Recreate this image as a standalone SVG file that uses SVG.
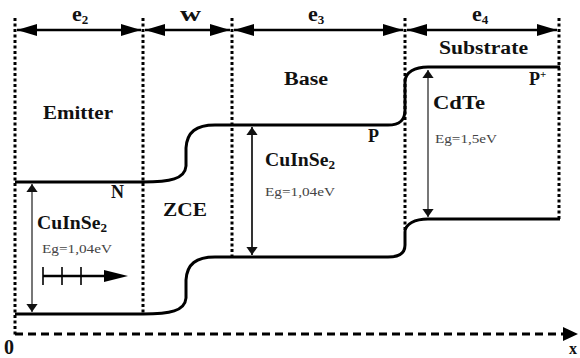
<svg xmlns="http://www.w3.org/2000/svg" width="580" height="358" viewBox="0 0 580 358">
<defs>
<style>
.dot{stroke:#000;stroke-width:3;stroke-dasharray:3 2.5;fill:none}
.band{stroke:#000;stroke-width:3;fill:none}
.dim{stroke:#000;stroke-width:2.5;fill:none}
.lbl{font-family:"Liberation Serif","DejaVu Serif",serif;font-weight:bold;font-size:18px;fill:#111}
.eg{font-family:"Liberation Serif","DejaVu Serif",serif;font-size:12px;fill:#444}
.gap{stroke:#777;stroke-width:2;fill:none}
.gapk{stroke:#000;stroke-width:1.6;fill:none}
</style>
<marker id="ah" viewBox="0 0 20 12" refX="20" refY="6" markerWidth="20" markerHeight="12" markerUnits="userSpaceOnUse" orient="auto-start-reverse">
<path d="M0,0 L20,6 L0,12 Z" fill="#000"/>
</marker>
<marker id="sh" viewBox="0 0 10 14" refX="10" refY="7" markerWidth="8" markerHeight="12" markerUnits="userSpaceOnUse" orient="auto-start-reverse">
<path d="M0,0 L10,7 L0,14 Z" fill="#111"/>
</marker>
</defs>
<g id="grid">
<line class="dot" x1="15" y1="18" x2="15" y2="336"/>
<line class="dot" x1="143" y1="18" x2="143" y2="315"/>
<line class="dot" x1="232" y1="18" x2="232" y2="258"/>
<line class="dot" x1="405" y1="18" x2="405" y2="232"/>
<line class="dot" x1="559" y1="18" x2="559" y2="220"/>
</g>
<g id="connectors">
<line class="dim" x1="17" y1="30" x2="141" y2="30" marker-start="url(#ah)" marker-end="url(#ah)"/>
<line class="dim" x1="145" y1="30" x2="230" y2="30" marker-start="url(#ah)" marker-end="url(#ah)"/>
<line class="dim" x1="234" y1="30" x2="403" y2="30" marker-start="url(#ah)" marker-end="url(#ah)"/>
<line class="dim" x1="407" y1="30" x2="557" y2="30" marker-start="url(#ah)" marker-end="url(#ah)"/>
<line class="gap" x1="32" y1="184" x2="32" y2="312" marker-start="url(#sh)" marker-end="url(#sh)"/>
<line class="gapk" x1="252" y1="127" x2="252" y2="255" marker-start="url(#sh)" marker-end="url(#sh)"/>
<line class="gap" x1="428" y1="70" x2="428" y2="217" marker-start="url(#sh)" marker-end="url(#sh)"/>
<line x1="15" y1="334" x2="566" y2="334" stroke="#000" stroke-width="3" stroke-dasharray="8 5"/>
<path d="M563,327 L578,334 L563,341 Z" fill="#000"/>
</g>
<g id="bands">
<path class="band" d="M15,182 H143 C170,182 185,179 186,166 L186,148 C187,132 196,125 215,125 H388 C400,125 405,120 405,110 L405,82 C405,72 415,67 428,67 H560"/>
<path class="band" d="M15,314 H143 C170,314 185,311 186,298 L186,280 C187,264 196,257 215,257 H388 C400,257 405,252 405,245 L405,232 C405,224 415,219 428,219 H560"/>
</g>
<g id="drift">
<line x1="43" y1="276" x2="110" y2="276" stroke="#000" stroke-width="2.5"/>
<path d="M104,270 L128,276 L104,282 Z" fill="#000"/>
<line x1="43" y1="267" x2="43" y2="285" stroke="#000" stroke-width="1.6"/>
<line x1="62" y1="267" x2="62" y2="285" stroke="#000" stroke-width="1.6"/>
<line x1="81" y1="267" x2="81" y2="285" stroke="#000" stroke-width="1.6"/>
</g>
<g id="labels">
<text class="lbl" x="72" y="21" style="font-size:22px">e<tspan style="font-size:13px" dy="3">2</tspan></text>
<text class="lbl" x="180" y="21" style="font-size:21px" textLength="21" lengthAdjust="spacingAndGlyphs">w</text>
<text class="lbl" x="308" y="21" style="font-size:22px">e<tspan style="font-size:13px" dy="3">3</tspan></text>
<text class="lbl" x="472" y="21" style="font-size:22px">e<tspan style="font-size:13px" dy="3">4</tspan></text>
<text class="lbl" x="43" y="119" textLength="70" lengthAdjust="spacingAndGlyphs">Emitter</text>
<text class="lbl" x="284" y="85" textLength="44" lengthAdjust="spacingAndGlyphs">Base</text>
<text class="lbl" x="439" y="54" textLength="89" lengthAdjust="spacingAndGlyphs">Substrate</text>
<text class="lbl" x="529" y="85">P<tspan style="font-size:11px" dy="-7">+</tspan></text>
<text class="lbl" x="368" y="142">P</text>
<text class="lbl" x="111" y="198">N</text>
<text class="lbl" x="163" y="216" textLength="44" lengthAdjust="spacingAndGlyphs">ZCE</text>
<text class="lbl" x="37" y="229" textLength="70" lengthAdjust="spacingAndGlyphs">CuInSe<tspan style="font-size:12px" dy="3">2</tspan></text>
<text class="eg" x="42" y="253" textLength="70" lengthAdjust="spacingAndGlyphs">Eg=1,04eV</text>
<text class="lbl" x="265" y="166" textLength="70" lengthAdjust="spacingAndGlyphs">CuInSe<tspan style="font-size:12px" dy="3">2</tspan></text>
<text class="eg" x="265" y="196" textLength="70" lengthAdjust="spacingAndGlyphs">Eg=1,04eV</text>
<text class="lbl" x="433" y="109" textLength="52" lengthAdjust="spacingAndGlyphs">CdTe</text>
<text class="eg" x="435" y="143" textLength="62" lengthAdjust="spacingAndGlyphs">Eg=1,5eV</text>
<text class="lbl" x="4" y="354" style="font-size:20px">0</text>
<text class="lbl" x="569" y="354" style="font-size:16px">x</text>
</g>
</svg>
